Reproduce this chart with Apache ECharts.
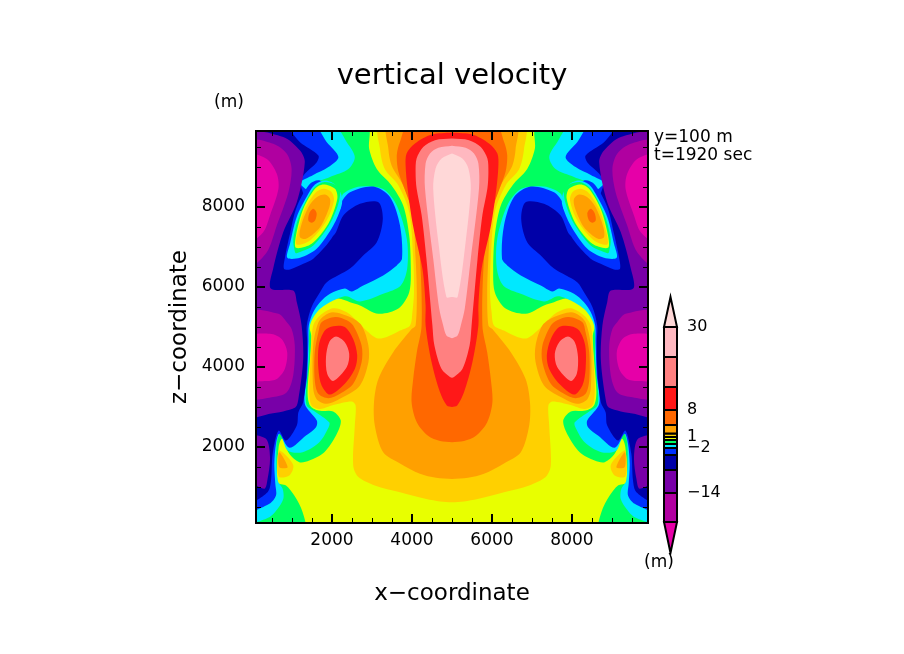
<!DOCTYPE html>
<html>
<head>
<meta charset="utf-8">
<title>vertical velocity</title>
<style>
    html, body { margin: 0; padding: 0; background: #fff; }
    #chart { width: 904px; height: 654px; }
</style>
<script src="https://cdn.jsdelivr.net/npm/echarts@6/dist/echarts.min.js"></script>
</head>
<body>
<div id="chart"></div>
<script>
// tick labels and ticks (m)
const majorTicks = [2000, 4000, 6000, 8000]
const minorTicks = [500, 1000, 1500, 2500, 3000, 3500, 4500, 5000, 5500, 6500, 7000, 7500, 8500, 9000, 9500]

// colour bar, bottom tip first
const bandColors = ['#e600a8', '#b000a0', '#7800a8', '#0000a8', '#0030ff', '#00e8ff', '#00ff60', '#e8ff00',
    '#ffd000', '#ffa000', '#ff6800', '#ff1818', '#ff8080', '#ffb8c0', '#ffd8d8']
const barEdges = [0, 31, 60, 83, 98, 105, 109, 113, 116, 119.5, 128, 143, 166, 196, 226, 256]
const barTicks = [226, 143, 116, 105, 60]
const barTickLabels = ['30', '8', '1', '−2', '−14']

const greenLeft = [[100,9900],[2870,9900],[2930,9450],[3120,8950],[3490,8540],[3780,8040],[3930,7290],[3970,6460],[3930,5870],[3660,5460],[3160,5330],[2700,5540],[2450,5620],[2160,5710],[1830,5620],[1580,5370],[1430,5040],[1480,4790],[1450,4200],[1390,3370],[1450,3040],[1660,2910],[2030,2890],[2220,2660],[2100,2287],[1808,1871],[1433,1662],[1183,1621],[933,1829],[750,2204],[666,1996],[641,1121],[850,1037],[1058,787],[1266,371],[1308,100],[100,100]]
const cyanLeft = [[100,9900],[2030,9900],[2370,9620],[2570,9250],[2410,8950],[1950,8750],[1530,8550],[1900,8250],[2180,8080],[2280,8330],[2530,8470],[2780,8520],[3280,8450],[3620,8040],[3870,7200],[3880,6460],[3720,6040],[3280,5830],[2700,5640],[2350,5770],[2030,5660],[1660,5410],[1450,5040],[1420,4200],[1350,3370],[1370,3040],[1570,2890],[1930,2620],[1916,2495],[1683,2120],[1266,1871],[891,1912],[708,2345],[616,2079],[641,1162],[766,954],[783,704],[641,454],[433,246],[100,162]]
const blueLeft = [[100,9900],[1530,9900],[1870,9620],[2160,9250],[1910,9000],[1530,8800],[1200,8580],[2200,7950],[2240,8130],[2450,8370],[3030,8510],[3450,8250],[3700,7540],[3750,6710],[3620,6540],[3280,6290],[2780,6040],[2490,5890],[2320,5960],[1950,5830],[1700,5620],[1530,5370],[1420,5040],[1410,4620],[1380,3790],[1320,3080],[1620,2660],[1600,2495],[1350,2287],[933,1979],[683,2329],[600,2079],[558,1579],[583,1079],[600,787],[433,580],[100,455]]
const navyLeft = [[100,9900],[780,9900],[1200,9620],[1660,9290],[1620,9120],[1320,8830],[1200,8580],[1700,7500],[2033,7287],[2283,7787],[2700,8079],[3160,8120],[3270,7700],[3120,7120],[2780,6790],[2450,6460],[1870,6120],[1700,5870],[1490,5500],[1370,5040],[1380,4620],[1370,3950],[1280,3120],[1160,2870],[1120,2540],[850,2162],[666,2412],[517,1829],[475,1162],[390,871],[100,663]]
const purpleLeft = [[100,9790],[780,9750],[1200,9410],[1320,9120],[1120,8120],[780,7370],[530,6460],[470,5960],[1030,5910],[1120,5620],[1240,5040],[1280,4200],[1160,3200],[1080,2990],[450,2830],[100,2790]]
const purpleLow = [[100,2262],[350,2204],[450,1746],[390,1204],[308,954],[100,1204]]
const plumUp = [[100,9620],[530,9580],[870,9330],[990,8950],[910,8370],[620,7540],[370,6870],[100,6540]]
const plumLow = [[100,5360],[660,5330],[870,5120],[990,4950],[1070,4540],[1030,3790],[870,3370],[530,3250],[100,3250]]
const magentaUp = [[100,9290],[370,9200],[620,8830],[660,8450],[450,7790],[280,7370],[100,7160]]
const magentaLow = [[100,4750],[450,4830],[740,4700],[880,4370],[820,3950],[620,3700],[370,3650],[100,3700]]
// upper warm blob
const topBlobBlue = [[800,6455],[825,6746],[950,7329],[1116,7996],[1450,8579],[1700,8662],[2200,8200],[2200,7900],[2033,7287],[1533,6704],[1283,6580],[950,6438]]
const topBlobCyan = [[883,6730],[950,7079],[1116,7746],[1408,8329],[1575,8562],[1825,8660],[2075,8562],[2240,8290],[2240,8037],[2033,7537],[1616,6954],[1200,6730]]
const topBlobGreen = [[1075,6870],[1033,7204],[1200,7829],[1533,8454],[1783,8620],[2075,8562],[2200,8412],[2158,8079],[1950,7579],[1533,7037],[1116,6846]]
const topBlobLime = [[1100,6979],[1100,7288],[1283,7954],[1575,8454],[1783,8562],[2075,8454],[2133,8204],[1908,7579],[1491,7079]]
const topBlobGold = [[1116,7063],[1133,7329],[1325,7954],[1575,8346],[1783,8454],[1991,8371],[2050,8162],[1866,7662],[1450,7163]]
const topBlobOrange = [[1200,7246],[1216,7496],[1408,7996],[1616,8246],[1825,8312],[1950,8204],[1933,7996],[1700,7496],[1350,7204]]
const topBlobDark = [[1408,7662],[1433,7846],[1533,7954],[1616,7846],[1575,7662],[1491,7604]]
// lower warm blob
const lowBlobOrange = [[2030,5370],[2450,5250],[2740,5040],[2910,4540],[2910,4120],[2700,3540],[2280,3250],[1870,3080],[1620,3190],[1530,3460],[1530,4540],[1660,5120],[1820,5290]]
const lowBlobDark = [[2080,5250],[2370,5170],[2530,5040],[2740,4540],[2740,4120],[2530,3580],[2200,3330],[1910,3220],[1660,3330],[1570,3660],[1570,4370],[1660,4870],[1740,5120]]
const lowBlobRed = [[2030,5020],[2320,5000],[2530,4700],[2630,4290],[2570,3950],[2320,3580],[1950,3310],[1740,3540],[1660,3950],[1670,4540],[1820,4910]]
const lowBlobSalmon = [[2100,4760],[2320,4620],[2430,4330],[2370,4000],[2030,3650],[1880,3830],[1850,4250],[1930,4620]]
// small warm spot near the floor
const spotGold = [[666,1912],[808,1829],[1033,1537],[933,1287],[666,1262]]
const spotOrange = [[683,1871],[891,1495],[683,1495]]
// central plume, left side only, drawn with its mirror as one outline
const plumeGold = [[3200,9900],[3200,9450],[3320,8950],[3660,8540],[3930,7870],[4030,6710],[4050,5870],[4010,5370],[3950,5040],[3700,4910],[3370,4750],[3120,4720],[2820,4950],[2740,5040],[2660,5120],[2370,5370],[2030,5470],[1700,5290],[1530,5040],[1490,4620],[1450,3950],[1430,3370],[1490,3040],[1700,2950],[2030,3050],[2490,3140],[2590,3040],[2570,2540],[2530,1540],[2660,1250],[3070,1040],[3700,870],[4360,700],[4700,640],[5000,620]]
const plumeOrange = [[3410,9900],[3410,9450],[3490,9040],[3780,8540],[4010,7870],[4090,6710],[4120,5870],[4090,5040],[3990,4950],[3530,4370],[3160,3700],[3050,3120],[3070,2540],[3280,1870],[3700,1590],[4200,1330],[4600,1230],[5000,1200]]
const plumeDark = [[3910,9900],[3700,9630],[3620,9300],[3660,8880],[3810,8462],[4070,7700],[4200,6710],[4240,5040],[4120,4370],[4030,3700],[3990,3120],[4120,2620],[4400,2280],[4700,2150],[5000,2120]]
const plumeRed = [[5000,9862],[4490,9810],[4075,9587],[3865,9337],[3840,9045],[3890,8462],[4025,7540],[4260,6460],[4340,5540],[4340,5040],[4490,4120],[4700,3370],[4870,3040],[5000,3000]]
const plumeSalmon = [[5000,9710],[4575,9670],[4280,9500],[4115,9210],[4090,8880],[4115,8460],[4240,7800],[4360,6710],[4510,5040],[4560,4540],[4740,3950],[4950,3750],[5000,3730]]
const plumePink = [[5000,9530],[4660,9480],[4450,9340],[4340,9090],[4325,8460],[4530,6710],[4680,5460],[4780,5040],[4860,4790],[5000,4720]]
const plumeLight = [[5000,9337],[4740,9212],[4590,8962],[4530,8462],[4660,7120],[4860,5750],[5000,5750]]

// 边框上的点推到外面一点, 平滑后不留缝, 靠 clip 裁掉
function pad(p) {
    const push = v => v <= 100 ? v - 150 : v >= 9900 ? v + 150 : v
    return [push(p[0]), push(p[1])]
}
function mirror(points) {
    return points.map(p => [10000 - p[0], p[1]])
}

const regions = []
// 左右各一块
function both(points, color) {
    regions.push({ points: points.map(pad), color })
    regions.push({ points: mirror(points).map(pad), color })
}
// 跨中线的一块
function whole(points, color) {
    regions.push({ points: points.concat(mirror(points).reverse()).map(pad), color })
}

both(greenLeft, bandColors[6])
both(cyanLeft, bandColors[5])
both(blueLeft, bandColors[4])
both(navyLeft, bandColors[3])
both(purpleLeft, bandColors[2])
both(purpleLow, bandColors[2])
both(plumUp, bandColors[1])
both(plumLow, bandColors[1])
both(magentaUp, bandColors[0])
both(magentaLow, bandColors[0])
both(topBlobBlue, bandColors[4])
both(topBlobCyan, bandColors[5])
both(topBlobGreen, bandColors[6])
both(topBlobLime, bandColors[7])
both(topBlobGold, bandColors[8])
both(topBlobOrange, bandColors[9])
both(topBlobDark, bandColors[10])
both(spotGold, bandColors[8])
both(spotOrange, bandColors[9])
whole(plumeGold, bandColors[8])
whole(plumeOrange, bandColors[9])
both(lowBlobOrange, bandColors[9])
both(lowBlobDark, bandColors[10])
both(lowBlobRed, bandColors[11])
both(lowBlobSalmon, bandColors[12])
whole(plumeDark, bandColors[10])
whole(plumeRed, bandColors[11])
whole(plumeSalmon, bandColors[12])
whole(plumePink, bandColors[13])
whole(plumeLight, bandColors[14])

const fontFamily = '"DejaVu Sans"'

// 坐标轴: 长刻度带文字, 短刻度不带, 上下左右都有
function makeAxis(position, values, length, tickWidth, extra) {
    return Object.assign({
        type: 'value',
        gridIndex: 0,
        position: position,
        min: 100,
        max: 9900,
        z: 5,
        axisLine: { show: true, onZero: false, lineStyle: { color: '#000', width: 2 } },
        axisTick: { show: true, inside: true, length: length, customValues: values, lineStyle: { color: '#000', width: tickWidth } },
        axisLabel: { show: false },
        splitLine: { show: false }
    }, extra)
}
const labelStyle = {
    show: true,
    customValues: majorTicks,
    color: '#000',
    fontFamily: fontFamily,
    fontSize: 17,
    formatter: v => String(v)
}
const nameStyle = { color: '#000', fontFamily: fontFamily, fontSize: 23 }

const option = {
    backgroundColor: '#fff',
    animation: false,
    grid: [
        { left: 256, top: 131, width: 392, height: 392, show: true, backgroundColor: bandColors[7], borderWidth: 0 },
        { left: 664, top: 297, width: 13, height: 256 }
    ],
    xAxis: [
        makeAxis('bottom', majorTicks, 9, 2, {
            axisLabel: Object.assign({ margin: 9 }, labelStyle),
            name: 'x−coordinate',
            nameLocation: 'middle',
            nameGap: 60,
            nameTextStyle: nameStyle
        }),
        makeAxis('bottom', minorTicks, 5, 1),
        makeAxis('top', majorTicks, 9, 2),
        makeAxis('top', minorTicks, 5, 1),
        { type: 'value', gridIndex: 1, min: 0, max: 1, show: false }
    ],
    yAxis: [
        makeAxis('left', majorTicks, 9, 2, {
            axisLabel: Object.assign({ margin: 11 }, labelStyle),
            name: 'z−coordinate',
            nameLocation: 'middle',
            nameGap: 64,
            nameTextStyle: nameStyle
        }),
        makeAxis('left', minorTicks, 5, 1),
        makeAxis('right', majorTicks, 9, 2),
        makeAxis('right', minorTicks, 5, 1),
        {
            type: 'value',
            gridIndex: 1,
            position: 'right',
            min: 0,
            max: 256,
            axisLine: { show: false },
            axisTick: { show: false },
            splitLine: { show: false },
            axisLabel: {
                show: true,
                customValues: barTicks,
                margin: 10,
                color: '#000',
                fontFamily: fontFamily,
                fontSize: 16,
                formatter: v => barTickLabels[barTicks.indexOf(v)]
            }
        }
    ],
    series: [
        {
            // 等值带
            type: 'custom',
            xAxisIndex: 0,
            yAxisIndex: 0,
            clip: true,
            silent: true,
            z: 1,
            data: regions.map((r, i) => [i]),
            renderItem: function (params, api) {
                const region = regions[api.value(0)]
                return {
                    type: 'polygon',
                    shape: { points: region.points.map(p => api.coord(p)), smooth: 0.3 },
                    style: { fill: region.color }
                }
            }
        },
        {
            // 色标
            type: 'custom',
            xAxisIndex: 4,
            yAxisIndex: 4,
            silent: true,
            data: bandColors.map((c, i) => [i]),
            renderItem: function (params, api) {
                const i = api.value(0)
                const low = barEdges[i]
                const high = barEdges[i + 1]
                let points
                if (i === 0) {
                    points = [api.coord([0.5, low]), api.coord([0, high]), api.coord([1, high])]
                } else if (i === bandColors.length - 1) {
                    points = [api.coord([0, low]), api.coord([1, low]), api.coord([0.5, high])]
                } else {
                    points = [api.coord([0, low]), api.coord([1, low]), api.coord([1, high]), api.coord([0, high])]
                }
                return {
                    type: 'polygon',
                    shape: { points: points },
                    style: { fill: bandColors[i], stroke: '#000', lineWidth: 2 }
                }
            }
        }
    ],
    graphic: [
        { type: 'text', x: 452, y: 76, style: { text: 'vertical velocity', fontFamily: fontFamily, fontSize: 29, fill: '#000', align: 'center', verticalAlign: 'middle' } },
        { type: 'text', x: 229, y: 103, style: { text: '(m)', fontFamily: fontFamily, fontSize: 17, fill: '#000', align: 'center', verticalAlign: 'middle' } },
        { type: 'text', x: 659, y: 563, style: { text: '(m)', fontFamily: fontFamily, fontSize: 17, fill: '#000', align: 'center', verticalAlign: 'middle' } },
        { type: 'text', x: 654, y: 138, style: { text: 'y=100 m', fontFamily: fontFamily, fontSize: 17, fill: '#000', align: 'left', verticalAlign: 'middle' } },
        { type: 'text', x: 654, y: 156, style: { text: 't=1920 sec', fontFamily: fontFamily, fontSize: 17, fill: '#000', align: 'left', verticalAlign: 'middle' } }
    ]
}

const chart = echarts.init(document.getElementById('chart'))
chart.setOption(option)
</script>
</body>
</html>
